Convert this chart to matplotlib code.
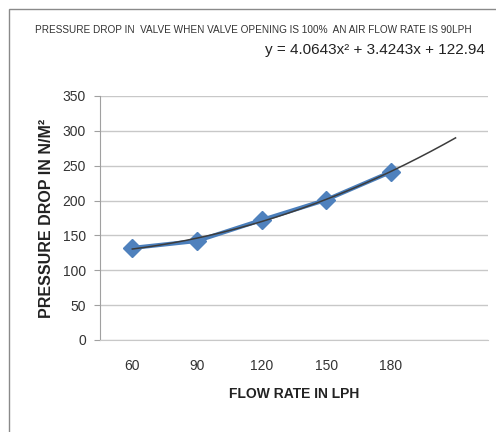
import numpy as np
import matplotlib
matplotlib.use("Agg")
import matplotlib.pyplot as plt
from matplotlib.patches import Rectangle

# values
flow_rate = ["60", "90", "120", "150", "180", ""]
pressure_drop = [132, 142, 172, 201, 241]
trend_coef = [4.0643, 3.4243, 122.94]   # y = a x^2 + b x + c, x = category index
trend_forecast = 1                       # trendline runs one period past the data

plt.rcParams['font.family'] = ['Liberation Sans Narrow', 'Liberation Sans', 'DejaVu Sans']

fig = plt.figure(figsize=(4.96, 4.32), dpi=100)
ax = fig.add_axes([0.2016, 0.213, 0.782, 0.565])

x = np.arange(1, len(pressure_drop) + 1)
ax.plot(x, pressure_drop, color='#4a7ebb', lw=3, marker='D', ms=9.5,
        markerfacecolor='#4f81bd', markeredgecolor='#4f81bd', zorder=3)

xt = np.linspace(1, len(pressure_drop) + trend_forecast, 200)
ax.plot(xt, np.polyval(trend_coef, xt), color='#3c3c3c', lw=1.1, zorder=4)

ax.set_xlim(0.5, len(flow_rate) + 0.5)
ax.set_ylim(0, 350)
ax.set_yticks(np.arange(0, 351, 50))
ax.set_xticks(np.arange(1, len(flow_rate) + 1))
ax.set_xticklabels(flow_rate)
ax.yaxis.grid(True, color='#c8c8c8', lw=1)
ax.set_axisbelow(True)
for s in ['top', 'right']:
    ax.spines[s].set_visible(False)
ax.spines['left'].set_color('#a0a0a0')
ax.spines['bottom'].set_color('#c8c8c8')
ax.tick_params(axis='y', length=4, color='#a0a0a0', labelsize=10, labelcolor='#333333', pad=6)
ax.tick_params(axis='x', length=0, labelsize=10, labelcolor='#333333', pad=14)

ax.set_xlabel("FLOW RATE IN LPH", fontsize=10, fontweight='bold', color='#222222', labelpad=10)
ax.set_ylabel("PRESSURE DROP IN N/M²", fontsize=11.5, fontweight='bold', color='#222222', labelpad=6)

fig.text(0.51, 1 - 30 / 432, "PRESSURE DROP IN  VALVE WHEN VALVE OPENING IS 100%  AN AIR FLOW RATE IS 90LPH",
         ha='center', va='center', fontsize=7.2, color='#333333')
fig.text(485 / 496, 1 - 50 / 432, "y = 4.0643x² + 3.4243x + 122.94",
         ha='right', va='center', fontsize=11, color='#222222')

# outer chart border
fig.patches.append(Rectangle((9 / 496, -0.1), 1.2, 1 - 9 / 432 + 0.1,
                             transform=fig.transFigure, fill=False,
                             edgecolor='#8a8a8a', lw=1))

fig.savefig("out.png", dpi=100)
